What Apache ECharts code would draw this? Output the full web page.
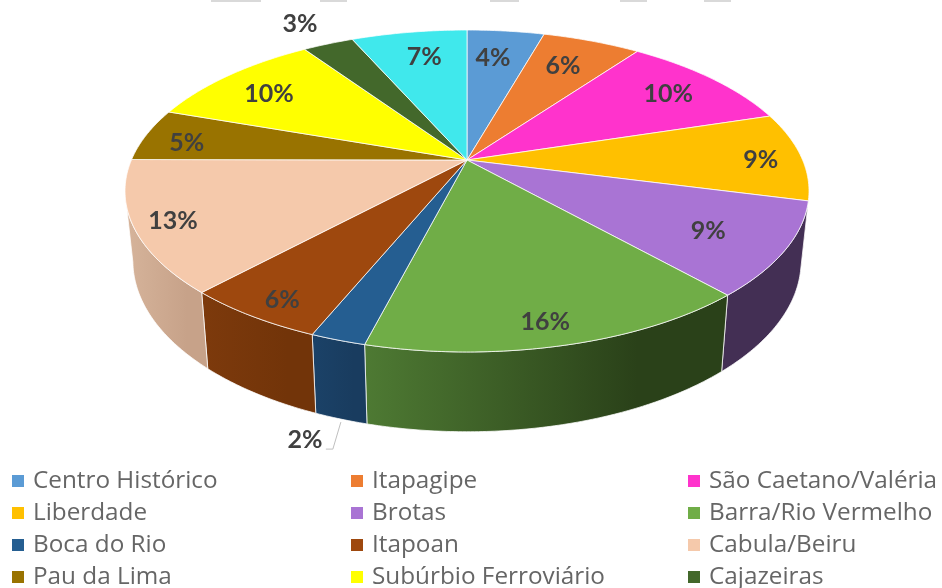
<!DOCTYPE html>
<html>
<head>
<meta charset="utf-8">
<script src="https://cdn.jsdelivr.net/npm/echarts@6/dist/echarts.min.js"></script>
<style>
html,body{margin:0;padding:0;background:#fff;overflow:hidden}
#main{width:942px;height:588px}
</style>
</head>
<body>
<div id="main"></div>
<script>
// last slice has no readable name, its legend row is cut off in the picture
var names = ['Centro Histórico','Itapagipe','São Caetano/Valéria','Liberdade','Brotas','Barra/Rio Vermelho',
    'Boca do Rio','Itapoan','Cabula/Beiru','Pau da Lima','Subúrbio Ferroviário','Cajazeiras','(sem nome)']
var values = [4.4,5.6,10.2,8.9,9.4,15.6,2.2,5.7,13.2,5.3,10.2,2.9,6.6]
var pctLabels = ['4%','6%','10%','9%','9%','16%','2%','6%','13%','5%','10%','3%','7%']

var colors = ['#5b9bd5','#ed7d31','#ff33cc','#ffc000','#a974d4','#70ad47','#255e91','#9e480e','#f5c9ab','#997300','#ffff00','#43682b','#40e8ec']
// side wall colours, left to right
var wallLeft = {3:'#7f6000',4:'#432f54',5:'#4e7a33',6:'#1b4268',7:'#7d3a0c',8:'#d6b49b',9:'#7a5c00'}
var wallRight = {3:'#7f6000',4:'#432f54',5:'#2a4119',6:'#193c5f',7:'#723409',8:'#c7a289',9:'#7a5c00'}
// how far out each label sits, 1 = on the rim, plus hand placement in px
var labelR = [.77,.775,.806,.873,.78,.887,1,.894,.89,.865,.797,1.21,.776]
var labelDx = [-5,-4,0,2,-1,-6,-36,4,0,-2,-4,-4,4]
var labelDy = [1,1,1,3,3,2,21,3,2,5,3,0,0]

// perspective of the pie top: centre of the slices, half axes, tilt
var cx = 467, cy = 160, A = 335.6, B = 155, K = .1925
var bottomScale = .977, depth = 68, wallFrom = .2

function topPt(theta,r){
    var u = r*Math.sin(theta), v = -r*Math.cos(theta), w = 1-K*v
    return [cx+A*u/w, cy+B*v/w]
}
function bottomPt(theta){
    var u = Math.sin(theta), v = -Math.cos(theta), w = 1-K*v
    return [cx+bottomScale*A*u/w, cy+(bottomScale*B*v+depth)/w]
}
function arc(a0,a1,fn){
    var pts = []
    var n = Math.max(2,Math.ceil((a1-a0)/0.01))
    for(var i=0;i<=n;i++){
        pts.push(fn(a0+(a1-a0)*i/n))
    }
    return pts
}

var total = values.reduce(function(a,b){return a+b},0)
var run = 0
var rows = values.map(function(v){
    var row = [run/total*Math.PI*2,(run+v)/total*Math.PI*2]
    run += v
    return row
})

function renderSlice(idx){
    return function(params,api){
        var a0 = api.value(0), a1 = api.value(1)
        var children = []
        // front wall, only the part that faces us
        var lim = Math.acos(-wallFrom)
        var w0 = Math.max(a0,lim), w1 = Math.min(a1,Math.PI*2-lim)
        if(w1>w0){
            var wall = arc(w0,w1,function(t){return topPt(t,1)})
                .concat(arc(w0,w1,bottomPt).reverse())
            children.push({
                type:'polygon',
                shape:{points:wall},
                style:{
                    fill:new echarts.graphic.LinearGradient(0,0,1,0,[
                        {offset:0,color:wallLeft[idx]||colors[idx]},
                        {offset:.75,color:wallRight[idx]||colors[idx]},
                        {offset:1,color:wallRight[idx]||colors[idx]}
                    ]),
                    stroke:'rgba(255,255,255,.75)',
                    lineWidth:1
                }
            })
        }
        var top = [[cx,cy]].concat(arc(a0,a1,function(t){return topPt(t,1)}))
        children.push({
            type:'polygon',
            shape:{points:top},
            style:{fill:colors[idx],stroke:'rgba(255,255,255,.75)',lineWidth:1,lineJoin:'round'}
        })
        return {type:'group',children:children}
    }
}

function renderLabel(idx){
    return function(params,api){
        var mid = (api.value(0)+api.value(1))/2
        // the 2% label hangs under the wall, the others sit on the top face
        var p = idx==6 ? bottomPt(mid) : topPt(mid,labelR[idx])
        var x = p[0]+labelDx[idx], y = p[1]+labelDy[idx]
        var children = [{
            type:'text',
            style:{
                text:pctLabels[idx],x:x,y:y,
                textAlign:'center',textVerticalAlign:'middle',
                font:'bold 25px Lato',fill:'#404040'
            }
        }]
        if(idx==6){
            // leader line of the outside 2% label
            children.unshift({
                type:'polyline',
                shape:{points:[[p[0],p[1]+3],[x+28,y+9],[x+21,y+9]]},
                style:{stroke:'#bfbfbf',lineWidth:1,fill:null}
            })
        }
        return {type:'group',children:children}
    }
}

var series = []
names.forEach(function(n,i){
    series.push({
        type:'custom',name:n,coordinateSystem:'none',
        itemStyle:{color:colors[i]},
        data:[rows[i]],
        silent:true,z:2,
        renderItem:renderSlice(i)
    })
})
names.forEach(function(n,i){
    series.push({
        type:'custom',coordinateSystem:'none',
        data:[rows[i]],
        silent:true,z:3,
        renderItem:renderLabel(i)
    })
})

function legendCol(left,items){
    return {
        orient:'vertical',left:left,top:465,height:140,
        itemWidth:12,itemHeight:12,itemGap:0,
        icon:'rect',selectedMode:false,
        textStyle:{fontFamily:'Open Sans',fontSize:24.3,color:'#666666',lineHeight:32,padding:[0,0,0,4]},
        padding:0,
        data:items
    }
}

var myChart = echarts.init(document.getElementById('main'),null,{renderer:'canvas'})
myChart.setOption({
    animation:false,
    backgroundColor:'#ffffff',
    legend:[
        legendCol(12,[names[0],names[3],names[6],names[9]]),
        legendCol(351,[names[1],names[4],names[7],names[10]]),
        legendCol(688,[names[2],names[5],names[8],names[11]])
    ],
    // remains of the cropped gridlines along the top edge
    graphic:[[211,50],[320,27],[490,29],[620,27],[704,27]].map(function(m){
        return {type:'rect',shape:{x:m[0],y:0,width:m[1],height:2},style:{fill:'#d9d9d9'},silent:true}
    }),
    series:series
})
</script>
</body>
</html>
